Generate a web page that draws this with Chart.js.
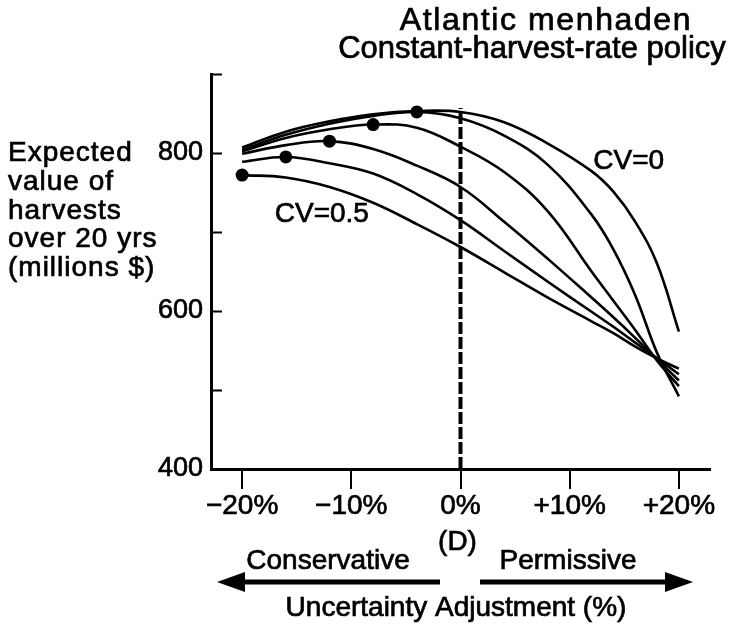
<!DOCTYPE html>
<html>
<head>
<meta charset="utf-8">
<script src="https://cdn.jsdelivr.net/npm/chart.js@4/dist/chart.umd.min.js"></script>
<style>
  body { margin: 0; background: #fff; }
</style>
</head>
<body>
<canvas id="harvestChart" width="733" height="636"></canvas>
<script>
  // uncertainty adjustment (%) at which each curve is sampled
  const adjust = [-20, -16, -12, -8, -4, 0, 4, 8, 12, 14, 16, 18, 20];

  // expected value of harvests over 20 yrs (millions $), one array per CV
  const cv00 = [807, 827, 840, 849, 853, 852, 839, 812, 777, 751, 713, 660, 574];
  const cv01 = [804, 823, 837, 847, 852, 844, 822, 785, 722, 678, 620, 547, 492];
  const cv02 = [802, 819, 830, 836, 832, 808, 776, 726, 650, 613, 576, 537, 505];
  const cv03 = [799, 810, 815, 805, 784, 757, 713, 666, 617, 592, 566, 539, 512];
  const cv04 = [789, 795, 787, 774, 748, 715, 676, 637, 599, 580, 560, 540, 520];
  const cv05 = [772, 769, 757, 737, 710, 681, 649, 617, 587, 572, 555, 540, 527];

  const curves = [cv00, cv01, cv02, cv03, cv04, cv05];
  const cvNames = ["CV=0", "CV=0.1", "CV=0.2", "CV=0.3", "CV=0.4", "CV=0.5"];

  // adjustment giving the highest value, for CV=0.1 ... CV=0.5
  const bestAdjust = [-4, -8, -12, -16, -20];

  const xTicks = [-20, -10, 0, 10, 20];
  const yTicks = [400, 500, 600, 700, 800, 900];
  const yLabelled = [400, 600, 800];

  const FONT = '"Liberation Sans", Arial, sans-serif';

  const lineSets = curves.map((vals, i) => ({
    label: cvNames[i],
    data: adjust.map((a, j) => ({ x: a, y: vals[j] })),
    borderColor: "#000",
    borderWidth: 2.6,
    pointRadius: 0,
    fill: false,
    tension: 0.4,
  }));

  const optimumPoints = bestAdjust.map((a, i) => ({
    x: a,
    y: curves[i + 1][adjust.indexOf(a)],
  }));

  function pctLabel(v) {
    if (v === 0) return "0%";
    return (v > 0 ? "+" : "\u2212") + Math.abs(v) + "%";
  }

  // fill plus a thin stroke so the lettering reads a little heavier
  function heavyText(ctx, s, px, py) {
    ctx.fillText(s, px, py);
    ctx.strokeText(s, px, py);
  }

  // ticks, captions and arrows that sit around the plot
  const decorations = {
    id: "decorations",
    afterDraw(chart) {
      const { ctx } = chart;
      const x = chart.scales.x;
      const y = chart.scales.y;
      ctx.save();
      ctx.fillStyle = "#000";
      ctx.strokeStyle = "#000";

      // value axis ticks point into the plot
      ctx.lineWidth = 2;
      yTicks.forEach((v) => {
        const py = Math.round(y.getPixelForValue(v)) + 0.5;
        ctx.beginPath();
        ctx.moveTo(x.left, py);
        ctx.lineTo(x.left + 11, py);
        ctx.stroke();
      });

      ctx.lineWidth = 0.7;
      ctx.textAlign = "center";
      ctx.textBaseline = "alphabetic";
      ctx.font = "32px " + FONT;
      ctx.letterSpacing = "1.6px";
      heavyText(ctx, "Atlantic menhaden", 546, 30);
      ctx.font = "31px " + FONT;
      ctx.letterSpacing = "0px";
      heavyText(ctx, "Constant-harvest-rate policy", 532, 58);

      ctx.textAlign = "left";
      ctx.font = "28px " + FONT;
      ctx.letterSpacing = "1px";
      const yTitle = ["Expected", "value of", "harvests", "over 20 yrs", "(millions $)"];
      yTitle.forEach((s, i) => heavyText(ctx, s, 8, 161 + i * 28.8));
      ctx.letterSpacing = "0px";

      ctx.textAlign = "center";
      ctx.textBaseline = "middle";
      ctx.font = "28px " + FONT;
      heavyText(ctx, "CV=0", x.getPixelForValue(15.4), y.getPixelForValue(789));
      heavyText(ctx, "CV=0.5", x.getPixelForValue(-12.7), y.getPixelForValue(722));

      ctx.textBaseline = "alphabetic";
      const x0 = x.getPixelForValue(0);
      ctx.font = "28px " + FONT;
      heavyText(ctx, "(D)", x0 - 3, 550);
      heavyText(ctx, "Conservative", 328, 569);
      heavyText(ctx, "Permissive", 568, 569);
      heavyText(ctx, "Uncertainty Adjustment (%)", 456, 616);

      // direction arrows
      function arrow(tail, tip, yy) {
        const dir = Math.sign(tip - tail);
        const base = tip - dir * 28;
        ctx.lineWidth = 5;
        ctx.beginPath();
        ctx.moveTo(tail, yy);
        ctx.lineTo(base, yy);
        ctx.stroke();
        ctx.beginPath();
        ctx.moveTo(tip, yy);
        ctx.lineTo(base, yy - 10);
        ctx.lineTo(base, yy + 10);
        ctx.closePath();
        ctx.fill();
      }
      arrow(440, 217, 582);
      arrow(480, 693, 582);

      ctx.restore();
    },
  };

  const ctx = document.getElementById("harvestChart").getContext("2d");
  const chart = new Chart(ctx, {
    type: "line",
    data: {
      datasets: [
        ...lineSets,
        {
          label: "optimum",
          type: "scatter",
          data: optimumPoints,
          pointRadius: 6.5,
          pointBackgroundColor: "#000",
          pointBorderWidth: 0,
        },
        {
          label: "D",
          data: [{ x: 0, y: 400 }, { x: 0, y: 857 }],
          borderColor: "#000",
          borderWidth: 4,
          borderDash: [12, 3],
          pointRadius: 0,
        },
      ],
    },
    options: {
      responsive: false,
      devicePixelRatio: 1,
      animation: false,
      layout: { padding: { top: 74, right: 23, left: 0, bottom: 0 } },
      plugins: {
        legend: { display: false },
        tooltip: { enabled: false },
        title: { display: false },
      },
      scales: {
        x: {
          type: "linear",
          min: -22.85,
          max: 22.85,
          afterFit: (s) => { s.height = 167; },
          afterBuildTicks: (s) => { s.ticks = xTicks.map((v) => ({ value: v })); },
          border: { color: "#000", width: 3 },
          grid: {
            drawOnChartArea: false,
            color: "#000",
            lineWidth: 2,
            tickLength: 20,
          },
          ticks: {
            color: "#000",
            textStrokeColor: "#000",
            textStrokeWidth: 0.7,
            font: { family: FONT, size: 28 },
            padding: 0,
            maxRotation: 0,
            callback: (v) => pctLabel(v),
          },
        },
        y: {
          min: 400,
          max: 900,
          afterFit: (s) => { s.width = 211; },
          afterBuildTicks: (s) => { s.ticks = yTicks.map((v) => ({ value: v })); },
          border: { color: "#000", width: 3 },
          grid: { display: false },
          ticks: {
            color: "#000",
            textStrokeColor: "#000",
            textStrokeWidth: 0.7,
            font: { family: FONT, size: 27 },
            padding: 0,
            callback: (v) => (yLabelled.includes(v) ? String(v) : ""),
          },
        },
      },
    },
    plugins: [decorations],
  });
</script>
</body>
</html>
